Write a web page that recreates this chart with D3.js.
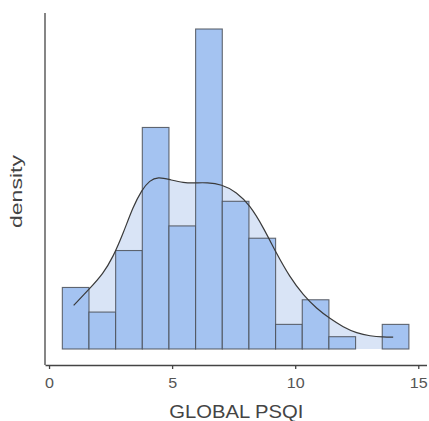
<!DOCTYPE html>
<html>
<head>
  <script src="https://d3js.org/d3.v7.min.js"></script>
  <style>
  body { margin: 0; background: #fff; }
  text { font-family: "Liberation Sans", Arial, sans-serif; fill: #444; }
  </style>
</head>
<body>
<script>
// histogram: bin start, bin width, counts per bin
var binStart = 0.54,
    binWidth = 1.083;
var binCounts = [5, 3, 8, 18, 10, 26, 12, 9, 2, 4, 1, 0, 2];

// kde curve (x, density)
var kdeX = [1.00, 1.65, 2.20, 2.60, 3.01, 3.41, 3.76, 4.09, 4.43, 4.91, 5.45, 5.99,
            6.40, 7.01, 7.62, 8.16, 8.70, 9.24, 9.78, 10.33, 10.87, 11.41, 11.95,
            12.50, 13.04, 13.58, 13.98];
var kdeY = [0.0327, 0.0453, 0.0566, 0.0690, 0.0866, 0.1066, 0.1191, 0.1266, 0.1291,
            0.1271, 0.1246, 0.1246, 0.1249, 0.1236, 0.1178, 0.1078, 0.0915, 0.0716,
            0.0540, 0.0403, 0.0303, 0.0228, 0.0164, 0.0119, 0.0097, 0.0089, 0.0089];

var xTicks = [0, 5, 10, 15];

var width = 429, height = 421;
var plotLeft = 45, plotRight = 426.5, plotTop = 13, plotBottom = 365;

var total = d3.sum(binCounts);
var bins = binCounts.map(function(c, i) {
  return {x0: binStart + i * binWidth, x1: binStart + (i + 1) * binWidth, d: c / (total * binWidth)};
});
var kde = kdeX.map(function(x, i) { return {x: x, y: kdeY[i]}; });

var svg = d3.select('body').append('svg')
  .attr('width', width)
  .attr('height', height);

var x = d3.scaleLinear().domain([-0.164, 15.334]).range([plotLeft, plotRight]);
var yMax = d3.max(bins, function(b) { return b.d; });
var y = d3.scaleLinear().domain([-0.05 * yMax, 1.05 * yMax]).range([plotBottom, plotTop]);

// density fill
svg.append('path')
  .datum(kde)
  .attr('fill', '#d9e4f6')
  .attr('d', d3.area()
    .x(function(d) { return x(d.x); })
    .y0(y(0))
    .y1(function(d) { return y(d.y); })
    .curve(d3.curveBasis));

// bars
svg.selectAll('rect.bar')
  .data(bins)
  .enter().append('rect')
  .attr('class', 'bar')
  .attr('x', function(b) { return x(b.x0); })
  .attr('width', function(b) { return x(b.x1) - x(b.x0); })
  .attr('y', function(b) { return y(b.d); })
  .attr('height', function(b) { return y(0) - y(b.d); })
  .attr('fill', '#a4c3f1')
  .attr('stroke', '#4a4f57')
  .attr('stroke-opacity', 0.85)
  .attr('stroke-width', 1.1);

// density line
svg.append('path')
  .datum(kde)
  .attr('fill', 'none')
  .attr('stroke', '#3a3a3a')
  .attr('stroke-width', 1.2)
  .attr('d', d3.line()
    .x(function(d) { return x(d.x); })
    .y(function(d) { return y(d.y); })
    .curve(d3.curveBasis));

// axes
var xAxis = svg.append('g')
  .attr('transform', 'translate(0,' + plotBottom + ')')
  .call(d3.axisBottom(x).tickValues(xTicks).tickSize(4).tickPadding(9.5).tickSizeOuter(0));
xAxis.attr('font-family', null);
xAxis.select('.domain').attr('stroke', '#444').attr('stroke-width', 1.3);
xAxis.selectAll('.tick line').attr('stroke', '#444').attr('stroke-width', 1.3);
xAxis.selectAll('.tick text')
  .attr('font-size', 14)
  .attr('transform', 'scale(1.15,1)')
  .style('fill', '#555');

svg.append('line')
  .attr('x1', plotLeft).attr('x2', plotLeft)
  .attr('y1', plotTop).attr('y2', plotBottom)
  .attr('stroke', '#444').attr('stroke-width', 1.3);

svg.append('text')
  .attr('x', 236.3)
  .attr('y', 418)
  .attr('text-anchor', 'middle')
  .attr('font-size', 17.5)
  .attr('textLength', 134)
  .attr('lengthAdjust', 'spacingAndGlyphs')
  .text('GLOBAL PSQI');

svg.append('text')
  .attr('transform', 'translate(22,191.5) rotate(-90)')
  .attr('text-anchor', 'middle')
  .attr('font-size', 16.4)
  .attr('textLength', 73)
  .attr('lengthAdjust', 'spacingAndGlyphs')
  .text('density');
</script>
</body>
</html>
